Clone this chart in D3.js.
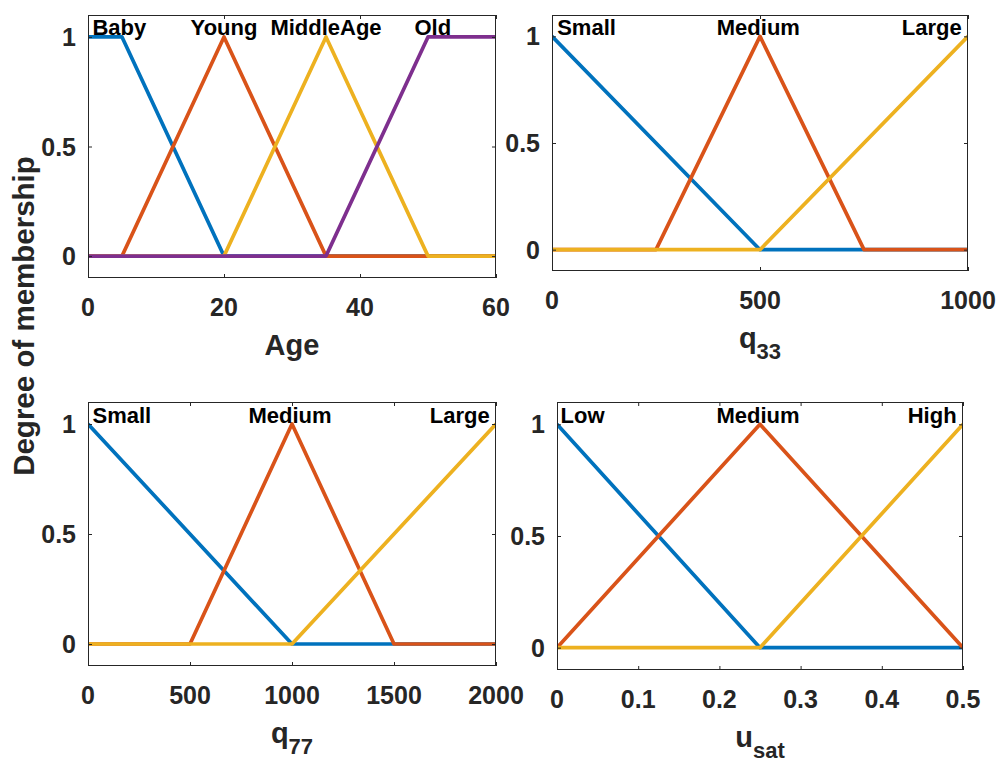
<!DOCTYPE html>
<html>
<head>
<meta charset="utf-8">
<script src="https://cdn.jsdelivr.net/npm/d3@7"></script>
<style>
  html, body { margin: 0; padding: 0; background: #fff; }
  svg { display: block; font-family: "Liberation Sans", Arial, Helvetica, sans-serif; }
</style>
</head>
<body>
<svg id="chart" width="997" height="764"></svg>
<script>
// ---------------- DATA ----------------
// Panel 1: Age
const ageTicks = [0, 20, 40, 60];
const ageBabyX = [0, 5, 20, 60];        const ageBabyY = [1, 1, 0, 0];
const ageYoungX = [0, 5, 20, 35, 60];   const ageYoungY = [0, 0, 1, 0, 0];
const ageMiddleX = [0, 20, 35, 50, 60]; const ageMiddleY = [0, 0, 1, 0, 0];
const ageOldX = [0, 35, 50, 60];        const ageOldY = [0, 0, 1, 1];
const ageLabels = ["Baby", "Young", "MiddleAge", "Old"];
const ageLabelX = [4.6, 20, 35, 50.7];

// Panel 2: q33
const q33Ticks = [0, 500, 1000];
const q33SmallX = [0, 500, 1000];        const q33SmallY = [1, 0, 0];
const q33MediumX = [0, 250, 500, 750, 1000]; const q33MediumY = [0, 0, 1, 0, 0];
const q33LargeX = [0, 500, 1000];        const q33LargeY = [0, 0, 1];
const q33Labels = ["Small", "Medium", "Large"];
const q33LabelX = [83, 496, 913];

// Panel 3: q77
const q77Ticks = [0, 500, 1000, 1500, 2000];
const q77SmallX = [0, 1000, 2000];       const q77SmallY = [1, 0, 0];
const q77MediumX = [0, 500, 1000, 1500, 2000]; const q77MediumY = [0, 0, 1, 0, 0];
const q77LargeX = [0, 1000, 2000];       const q77LargeY = [0, 0, 1];
const q77Labels = ["Small", "Medium", "Large"];
const q77LabelX = [166, 990, 1822];

// Panel 4: u_sat
const usatTicks = [0, 0.1, 0.2, 0.3, 0.4, 0.5];
const usatLowX = [0, 0.25, 0.5];         const usatLowY = [1, 0, 0];
const usatMediumX = [0, 0.25, 0.5];      const usatMediumY = [0, 1, 0];
const usatHighX = [0, 0.25, 0.5];        const usatHighY = [0, 0, 1];
const usatLabels = ["Low", "Medium", "High"];
const usatLabelX = [0.0315, 0.2475, 0.462];

const yTicks = [0, 0.5, 1];
const yTickLabels = ["0", "0.5", "1"];
const yDomain = [-0.1, 1.1];
const yAxisTitle = "Degree of membership";

const seriesColors = ["#0072BD", "#D95319", "#EDB120", "#7E2F8E"];

// ---------------- LAYOUT ----------------
const panels = [
  { box: {l: 88, r: 496, t: 15, b: 278}, xDomain: [0, 60], ticks: ageTicks, tickFmt: d => d,
    series: [[ageBabyX, ageBabyY], [ageYoungX, ageYoungY], [ageMiddleX, ageMiddleY], [ageOldX, ageOldY]],
    labels: ageLabels, labelX: ageLabelX, title: "Age", sub: null },
  { box: {l: 552, r: 968, t: 15, b: 271}, xDomain: [0, 1000], ticks: q33Ticks, tickFmt: d => d,
    series: [[q33SmallX, q33SmallY], [q33MediumX, q33MediumY], [q33LargeX, q33LargeY]],
    labels: q33Labels, labelX: q33LabelX, title: "q", sub: "33" },
  { box: {l: 88, r: 496, t: 402, b: 666}, xDomain: [0, 2000], ticks: q77Ticks, tickFmt: d => d,
    series: [[q77SmallX, q77SmallY], [q77MediumX, q77MediumY], [q77LargeX, q77LargeY]],
    labels: q77Labels, labelX: q77LabelX, title: "q", sub: "77" },
  { box: {l: 557, r: 963, t: 402, b: 670}, xDomain: [0, 0.5], ticks: usatTicks, tickFmt: d => d3.format("")(d),
    series: [[usatLowX, usatLowY], [usatMediumX, usatMediumY], [usatHighX, usatHighY]],
    labels: usatLabels, labelX: usatLabelX, title: "u", sub: "sat" }
];

const svg = d3.select("#chart");
const axisColor = "#262626";
const tickLen = 4;

panels.forEach((p, i) => {
  const {l, r, t, b} = p.box;
  const x = d3.scaleLinear().domain(p.xDomain).range([l, r]);
  const y = d3.scaleLinear().domain(yDomain).range([b, t]);
  const g = svg.append("g");

  const clipId = "clip" + i;
  svg.append("clipPath").attr("id", clipId)
    .append("rect").attr("x", l).attr("y", t).attr("width", r - l).attr("height", b - t);

  // Series lines
  const line = d3.line().x(d => x(d[0])).y(d => y(d[1]));
  p.series.forEach((s, k) => {
    const pts = s[0].map((xv, j) => [xv, s[1][j]]);
    g.append("path")
      .attr("d", line(pts))
      .attr("fill", "none")
      .attr("stroke", seriesColors[k])
      .attr("stroke-width", 3.7)
      .attr("stroke-linejoin", "round")
      .attr("clip-path", `url(#${clipId})`);
  });

  // Axes (ticks inside, mirrored)
  const axB = d3.axisBottom(x).tickValues(p.ticks).tickSize(-tickLen).tickFormat("");
  const axT = d3.axisTop(x).tickValues(p.ticks).tickSize(-tickLen).tickFormat("");
  const axL = d3.axisLeft(y).tickValues(yTicks).tickSize(-tickLen).tickFormat("");
  const axR = d3.axisRight(y).tickValues(yTicks).tickSize(-tickLen).tickFormat("");
  [[axB, `translate(0,${b})`], [axT, `translate(0,${t})`], [axL, `translate(${l},0)`], [axR, `translate(${r},0)`]]
    .forEach(([ax, tr]) => {
      const a = g.append("g").attr("transform", tr).call(ax);
      a.select(".domain").remove();
      a.selectAll("line").attr("stroke", axisColor).attr("stroke-width", 1);
    });

  // Box
  g.append("rect").attr("x", l + 0.5).attr("y", t + 0.5)
    .attr("width", r - l - 1).attr("height", b - t - 1)
    .attr("fill", "none").attr("stroke", axisColor).attr("stroke-width", 1);

  // X tick labels
  g.selectAll(".xtl").data(p.ticks).enter().append("text")
    .attr("x", d => x(d)).attr("y", b + 38)
    .attr("text-anchor", "middle")
    .attr("font-size", 25).attr("font-weight", "bold").attr("fill", axisColor)
    .text(p.tickFmt);

  // Y tick labels
  g.selectAll(".ytl").data(yTicks).enter().append("text")
    .attr("x", l - 12).attr("y", d => y(d))
    .attr("dy", "0.36em")
    .attr("text-anchor", "end")
    .attr("font-size", 25).attr("font-weight", "bold").attr("fill", axisColor)
    .text((d, j) => yTickLabels[j]);

  // Annotation labels
  g.selectAll(".ann").data(p.labels).enter().append("text")
    .attr("x", (d, j) => x(p.labelX[j])).attr("y", y(1) - 1.5)
    .attr("text-anchor", "middle")
    .attr("font-size", 22).attr("font-weight", "bold").attr("fill", "#000")
    .text(d => d);

  // Axis title
  const tt = g.append("text")
    .attr("x", (l + r) / 2).attr("y", b + 77)
    .attr("text-anchor", "middle")
    .attr("font-size", 29).attr("font-weight", "bold").attr("fill", axisColor);
  tt.append("tspan").text(p.title);
  if (p.sub) {
    tt.append("tspan").attr("font-size", 22).attr("dy", 11).text(p.sub);
  }
});

// Shared y-axis title
svg.append("text")
  .attr("transform", "translate(34,316) rotate(-90)")
  .attr("text-anchor", "middle")
  .attr("font-size", 29.5).attr("font-weight", "bold").attr("fill", axisColor)
  .text(yAxisTitle);
</script>
</body>
</html>
